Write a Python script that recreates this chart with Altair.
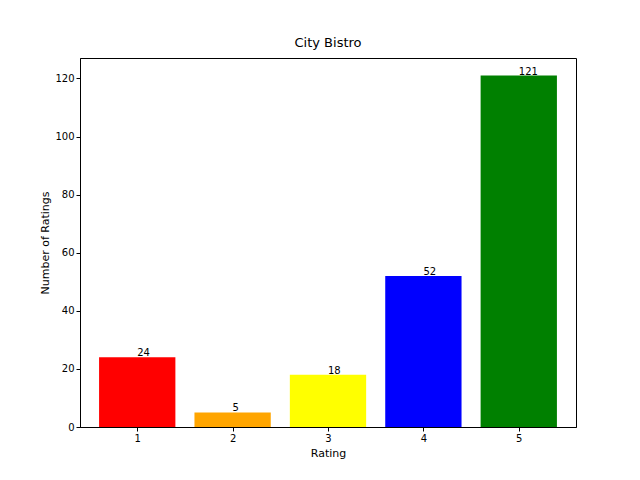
import pandas as pd
import altair as alt

ratings = [1, 2, 3, 4, 5]
counts = [24, 5, 18, 52, 121]
colors = ["red", "orange", "yellow", "blue", "green"]

df = pd.DataFrame({"rating": ratings, "count": counts, "color": colors})
df["x0"] = df["rating"] - 0.4
df["x1"] = df["rating"] + 0.4
df["base"] = 0
df["label"] = df["count"].astype(str)

font = "DejaVu Sans"
xs = alt.Scale(domain=[0.4, 5.6], nice=False, zero=False)
ys = alt.Scale(domain=[0, 127.05], nice=False)

bars = alt.Chart(df).mark_bar().encode(
    x=alt.X("x0:Q", scale=xs, title="Rating",
            axis=alt.Axis(values=ratings, format="d", grid=False, labelFlush=False)),
    x2="x1:Q",
    y=alt.Y("count:Q", scale=ys, title="Number of Ratings",
            axis=alt.Axis(values=[0, 20, 40, 60, 80, 100, 120], grid=False)),
    y2="base:Q",
    color=alt.Color("color:N", scale=None),
)

text = alt.Chart(df).mark_text(align="left", baseline="bottom", fontSize=10,
                               font=font, color="black", dy=1).encode(
    x=alt.X("rating:Q", scale=xs),
    y=alt.Y("count:Q", scale=ys),
    text="label:N",
)

chart = (bars + text).properties(
    width=496, height=369,
    title=alt.Title("City Bistro", font=font, fontSize=13, fontWeight="normal", offset=8),
    autosize=alt.AutoSizeParams(type="none"),
    padding={"left": 72, "top": 50, "right": 56, "bottom": 45},
).configure_axis(
    labelFont=font, titleFont=font, labelFontSize=10, titleFontSize=11,
    titleFontWeight="normal", domainColor="black", tickColor="black",
    labelColor="black", titleColor="black", tickSize=4,
).configure_view(stroke="black", strokeWidth=1)

chart.save("out.html", embed_options={"renderer": "svg", "actions": False})
